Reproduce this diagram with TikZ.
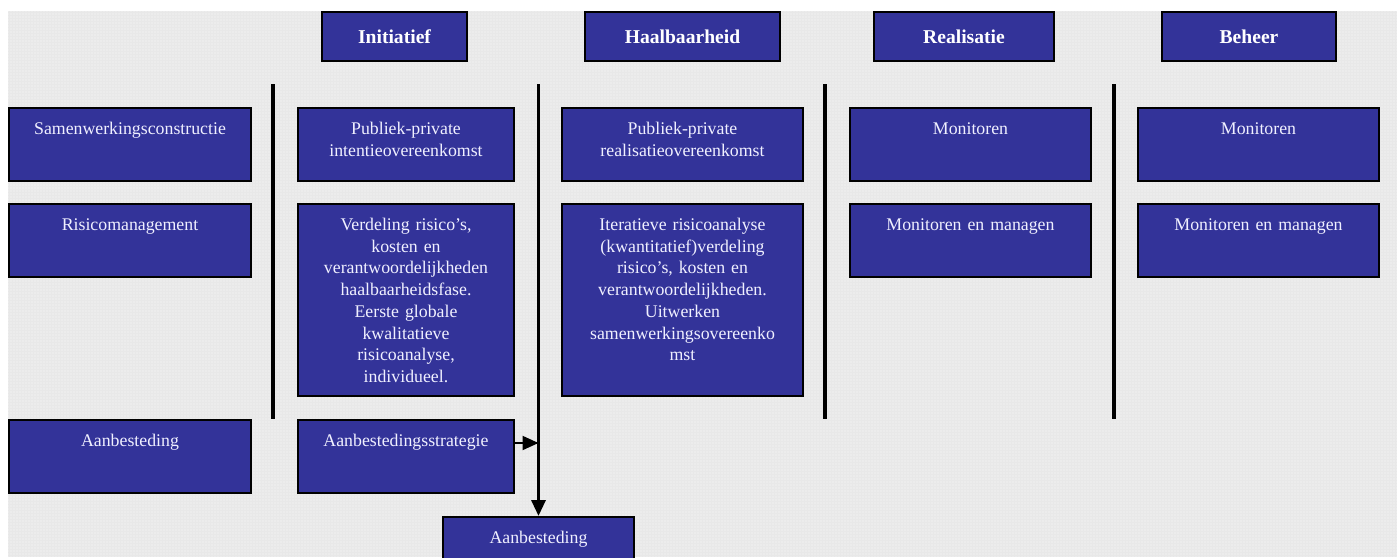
\documentclass[tikz,border=0pt]{standalone}
\usepackage{fontspec}
\setmainfont{Liberation Serif}
\usepackage{xcolor}
\usetikzlibrary{arrows.meta, positioning}
\definecolor{phaseblue}{RGB}{51,51,153}
\definecolor{sheet}{RGB}{236,236,236}

\begin{document}
\begin{tikzpicture}[x=0.5pt, y=-0.5pt,
    box/.style={draw=black, line width=1pt, fill=phaseblue, anchor=north west, inner sep=0pt},
    phase/.style={box, minimum height=24.5pt, text=white, font=\fontsize{9.8}{12}\selectfont\bfseries},
    cell/.style={box, minimum width=120.5pt, minimum height=36.5pt},
    tall/.style={cell, minimum height=96pt},
    txt/.style={anchor=base, text=white!94!blue, align=center, text width=118pt, inner sep=0pt,
                font=\fontsize{8.9}{10.85}\selectfont},
    sep/.style={line width=1.6pt},
    arr/.style={line width=1pt, -{Triangle[length=8pt, width=7pt]}}]
  \useasboundingbox (0,0) rectangle (1397,557);
  % raster background
  \fill[sheet] (8,11) rectangle (1397,557);
  \draw[gray!18, line width=0.2pt, step=1.5pt] (8,11) grid (1397,557);

  % phases
  \node[phase, minimum width=72.5pt] (init) at (321,11) {Initiatief};
  \node[phase, minimum width=97.5pt] (haal) at (584,11) {Haalbaarheid};
  \node[phase, minimum width=90pt]   (real) at (873,11) {Realisatie};
  \node[phase, minimum width=87pt]   (beh)  at (1161,11) {Beheer};

  % rows
  \node[cell, minimum width=121pt] (samen)  at (8,107) {};
  \node[cell, minimum width=108pt] (ppi)    at (297,107) {};
  \node[cell]                      (ppr)    at (561,107) {};
  \node[cell]                      (monr)   at (849,107) {};
  \node[cell]                      (monb)   at (1137,107) {};
  \node[cell, minimum width=121pt] (risico) at (8,203) {};
  \node[tall, minimum width=108pt] (verd)   at (297,203) {};
  \node[tall]                      (iter)   at (561,203) {};
  \node[cell]                      (manr)   at (849,203) {};
  \node[cell]                      (manb)   at (1137,203) {};
  \node[cell, minimum width=121pt] (aanb)   at (8,419) {};
  \node[cell, minimum width=108pt] (strat)  at (297,419) {};
  \node[box, minimum width=95.5pt, minimum height=24pt] (aanbh) at (442,516) {};

  \node[txt] (tsamen)  at ([yshift=-13.75pt]samen.north)  {Samenwerkingsconstructie};
  \node[txt] (tppi)    at ([yshift=-13.75pt]ppi.north)    {Publiek-private\\intentieovereenkomst};
  \node[txt] (tppr)    at ([yshift=-13.75pt]ppr.north)    {Publiek-private\\realisatieovereenkomst};
  \node[txt] (tmonr)   at ([yshift=-13.75pt]monr.north)   {Monitoren};
  \node[txt] (tmonb)   at ([yshift=-13.75pt]monb.north)   {Monitoren};
  \node[txt] (trisico) at ([yshift=-13.75pt]risico.north) {Risicomanagement};
  \node[txt] (tverd)   at ([yshift=-13.75pt]verd.north)
        {Verdeling risico’s,\\kosten en\\verantwoordelijkheden\\haalbaarheidsfase.\\Eerste globale\\kwalitatieve\\risicoanalyse,\\individueel.};
  \node[txt] (titer)   at ([yshift=-13.75pt]iter.north)
        {Iteratieve risicoanalyse\\(kwantitatief)verdeling\\risico’s, kosten en\\verantwoordelijkheden.\\Uitwerken\\samenwerkingsovereenko\\mst};
  \node[txt] (tmanr)   at ([yshift=-13.75pt]manr.north)   {Monitoren en managen};
  \node[txt] (tmanb)   at ([yshift=-13.75pt]manb.north)   {Monitoren en managen};
  \node[txt] (taanb)   at ([yshift=-13.75pt]aanb.north)   {Aanbesteding};
  \node[txt] (tstrat)  at ([yshift=-13.75pt]strat.north)  {Aanbestedingsstrategie};
  \node[txt] (taanbh)  at ([yshift=-13.75pt]aanbh.north)  {Aanbesteding};

  % phase borders
  \coordinate (s1) at (273,84);  \coordinate (s1e) at (273,419);
  \coordinate (s2) at (aanbh.north |- 0,84);
  \coordinate (join) at (aanbh.north |- 0,443);
  \coordinate (s3) at (825,84);  \coordinate (s3e) at (825,419);
  \coordinate (s4) at (1114,84); \coordinate (s4e) at (1114,419);
  \draw[sep] (s1) -- (s1e);
  \draw[sep] (s3) -- (s3e);
  \draw[sep] (s4) -- (s4e);
  \draw[arr, line width=1.6pt] (s2) -- (aanbh.north);
  \draw[arr] (strat.east |- join) -- (join);
\end{tikzpicture}
\end{document}
